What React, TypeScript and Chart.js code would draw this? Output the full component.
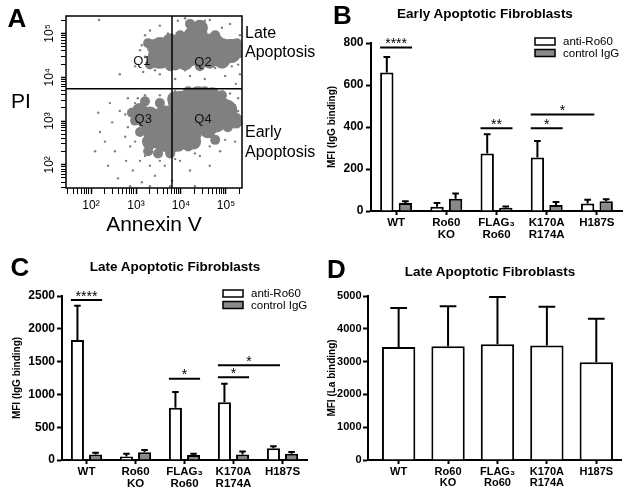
import React, { useEffect, useRef } from 'react';
import { Chart, registerables } from 'chart.js';

Chart.register(...registerables);

const FONT = '"Liberation Sans", Arial, Helvetica, sans-serif';
Chart.defaults.font.family = FONT;
Chart.defaults.color = '#000';

// ---------------- Panel A: flow cytometry (values in log10 units) ----------------
const annexinRange = [1.444, 5.356];
const piRange = [1.47, 5.4];
const annexinGate = 3.8;
const piGate = 3.74;
const quadrantNames = ['Q1', 'Q2', 'Q3', 'Q4'];
const quadrantLabelAnnexin = [3.13, 4.49, 3.16, 4.49];
const quadrantLabelPI = [4.36, 4.34, 3.04, 3.04];
const decadeLabels = ['10²', '10³', '10⁴', '10⁵'];

// event density groups, [log10 Annexin V, log10 PI]
const eventsDensest = [[4.2, 4.62], [4.6, 4.62], [4.09, 3.15], [4.53, 3.23]];
const eventsDense = [
  [3.64, 4.56], [3.87, 4.65], [4.91, 4.62], [4.31, 4.91], [3.53, 4.47], [4.09, 4.51], [4.71, 4.74],
  [5.09, 4.6],
  [3.64, 3.08], [3.76, 2.79], [4.76, 3.01], [4.38, 3.52], [3.42, 2.79], [4.2, 2.75], [3.98, 3.41],
  [4.42, 2.97], [3.53, 2.64], [4.98, 3.23],
];
const eventsMedium = [
  [3.42, 4.69], [3.42, 4.4], [5.13, 4.69], [5.13, 4.51], [4.42, 5.13], [4.09, 4.34], [4.64, 4.38],
  [3.76, 4.82], [4.42, 4.96], [3.53, 4.74], [3.87, 4.34], [4.91, 4.38], [5.28, 4.62],
  [3.2, 3.01], [3.31, 2.53], [3.58, 2.48], [3.93, 2.48], [4.87, 3.41], [5.04, 3.15], [4.6, 2.79],
  [3.87, 3.5], [3.09, 3.23], [3.31, 3.15], [3.76, 2.42], [4.09, 3.52], [4.69, 3.59], [4.27, 2.53],
  [5.2, 3.01],
];
const eventsLight = [
  [3.27, 4.78], [3.31, 4.29], [5.24, 4.78], [5.24, 4.56], [4.76, 4.96], [3.98, 4.96], [3.76, 4.25],
  [4.42, 4.25], [5.0, 4.4], [4.2, 5.22],
  [2.98, 3.01], [2.91, 3.19], [3.09, 2.75], [3.27, 2.31], [3.49, 2.26], [3.76, 2.26], [4.16, 2.42],
  [4.76, 2.57], [5.04, 2.86], [5.13, 3.3], [4.91, 3.59], [4.53, 3.68], [4.16, 3.68], [3.53, 3.41],
  [3.2, 3.45],
];
const eventsSparse = [
  [2.18, 5.31], [2.64, 4.07], [2.98, 4.25], [3.09, 4.62], [3.16, 4.12], [3.53, 4.07], [3.87, 3.96],
  [4.2, 4.03], [4.53, 3.96], [4.98, 4.03], [5.27, 4.29], [3.93, 5.29], [4.64, 5.31], [5.09, 5.22],
  [3.2, 4.96], [3.31, 5.07], [3.53, 5.18], [3.71, 5.0], [4.09, 5.35], [4.53, 5.29], [4.91, 5.13],
  [5.31, 4.96], [3.2, 4.47], [3.13, 4.73], [3.42, 4.16], [4.09, 4.16], [4.76, 4.21], [5.13, 4.25],
  [5.31, 4.07],
  [2.09, 2.31], [2.2, 2.75], [2.31, 2.53], [2.38, 1.98], [2.47, 2.97], [2.53, 2.31], [2.6, 1.69],
  [2.64, 3.23], [2.76, 2.64], [2.78, 2.09], [2.87, 2.42], [2.93, 1.87], [3.04, 3.52], [3.09, 2.09],
  [3.13, 1.6], [3.31, 1.98], [3.42, 1.75], [3.64, 1.98], [3.8, 1.64], [3.98, 2.09], [4.2, 1.87],
  [4.42, 2.2], [4.64, 1.98], [4.87, 2.31], [5.2, 2.53], [5.27, 3.52], [2.82, 3.52], [2.42, 3.41],
  [2.16, 3.19], [5.22, 3.85], [2.87, 1.51], [3.31, 1.51], [3.76, 1.51], [4.31, 1.51],
  [2.76, 3.15], [2.82, 2.86], [2.98, 2.53], [3.2, 2.2], [3.53, 2.09], [3.87, 2.13], [4.31, 2.26],
  [4.64, 2.42], [4.98, 2.57], [5.27, 2.86], [5.27, 3.23], [5.09, 3.63], [4.76, 3.72], [4.31, 3.72],
  [3.87, 3.68], [3.53, 3.59], [3.2, 3.59], [2.98, 3.41],
];

// ---------------- Panels B–D: bar charts ----------------
const categories: (string | string[])[] = ['WT', ['Ro60', 'KO'], ['FLAG₃', 'Ro60'], ['K170A', 'R174A'], 'H187S'];
const seriesNames = ['anti-Ro60', 'control IgG'];

const earlyAntiRo60 = [660, 20, 274, 255, 36];
const earlyAntiRo60Sem = [73, 18, 92, 78, 18];
const earlyControlIgG = [38, 58, 16, 29, 46];
const earlyControlIgGSem = [8, 25, 6, 14, 10];

const lateAntiRo60 = [1829, 55, 798, 879, 178];
const lateAntiRo60Sem = [524, 40, 239, 285, 32];
const lateControlIgG = [85, 117, 75, 85, 95];
const lateControlIgGSem = [25, 35, 22, 45, 28];

const laBinding = [3448, 3469, 3529, 3489, 2982];
const laBindingSem = [1187, 1217, 1441, 1186, 1328];

// significance brackets: from anti-Ro60 bar of sigFromCat to bar [sigToCat, sigToSeries]
const sigFromCat = [0, 2, 3, 3];
const sigToCat = [0, 2, 3, 4];
const sigToSeries = [1, 1, 1, 0];
const earlySigLevel = [779, 394, 394, 460];
const earlySigStars = ['****', '**', '*', '*'];
const lateSigLevel = [2439, 1240, 1260, 1443];
const lateSigStars = ['****', '*', '*', '*'];

const WHITE = '#ffffff';
const GRAY = '#898989';

function logTicks(min: number, max: number) {
  const t: any[] = [];
  for (let d = 1; d <= 5; d++) {
    for (let k = 1; k <= 9; k++) {
      const v = d + Math.log10(k);
      if (v >= min - 1e-9 && v <= max + 1e-9) t.push({ value: v, major: k === 1 });
    }
  }
  return t;
}
function decadeLabel(v: number) {
  const r = Math.round(v);
  if (Math.abs(v - r) > 1e-6) return '';
  return decadeLabels[r - 2] ?? '';
}

function flowConfig(): any {
  const pts = (arr: number[][]) => arr.map(([x, y]) => ({ x, y }));
  const groups: [number[][], number][] = [
    [eventsSparse, 1.2],
    [eventsLight, 5],
    [eventsMedium, 8],
    [eventsDense, 12],
    [eventsDensest, 16],
  ];
  const framePlugin = {
    id: 'flowFrame',
    afterDatasetsDraw(chart: any) {
      const { ctx, chartArea: a, scales } = chart;
      const gx = scales.x.getPixelForValue(annexinGate);
      const gy = scales.y.getPixelForValue(piGate);
      ctx.save();
      ctx.strokeStyle = '#000';
      ctx.lineWidth = 1.5;
      ctx.strokeRect(a.left, a.top, a.right - a.left, a.bottom - a.top);
      ctx.beginPath();
      ctx.moveTo(gx, a.top);
      ctx.lineTo(gx, a.bottom);
      ctx.moveTo(a.left, gy);
      ctx.lineTo(a.right, gy);
      ctx.stroke();
      ctx.fillStyle = '#111';
      ctx.font = `13px ${FONT}`;
      ctx.textAlign = 'center';
      ctx.textBaseline = 'middle';
      quadrantNames.forEach((q, i) => {
        ctx.fillText(q, scales.x.getPixelForValue(quadrantLabelAnnexin[i]), scales.y.getPixelForValue(quadrantLabelPI[i]));
      });
      ctx.restore();
    },
  };
  return {
    type: 'scatter',
    data: {
      datasets: groups.map(([g, r]) => ({
        data: pts(g),
        pointRadius: r,
        pointHoverRadius: r,
        backgroundColor: '#808080',
        borderWidth: 0,
      })),
    },
    options: {
      responsive: false,
      animation: false,
      devicePixelRatio: 1,
      events: [],
      layout: { padding: { top: 10, right: 58, left: 0, bottom: 0 } },
      plugins: { legend: { display: false }, tooltip: { enabled: false } },
      scales: {
        x: {
          type: 'linear',
          min: annexinRange[0],
          max: annexinRange[1],
          afterBuildTicks: (s: any) => { s.ticks = logTicks(annexinRange[0], annexinRange[1]); },
          ticks: { autoSkip: false, maxRotation: 0, minRotation: 0, padding: 4, font: { size: 12 }, callback: (v: any) => decadeLabel(Number(v)) },
          grid: { drawOnChartArea: false, tickLength: 6, tickColor: '#000', tickWidth: (c: any) => (c.tick && c.tick.major ? 1.5 : 1) },
          border: { display: false },
          title: { display: true, text: 'Annexin V', font: { size: 21 }, padding: { top: 0, bottom: 2 } },
          afterFit: (s: any) => { s.height = 52; },
        },
        y: {
          type: 'linear',
          min: piRange[0],
          max: piRange[1],
          afterBuildTicks: (s: any) => { s.ticks = logTicks(piRange[0], piRange[1]); },
          ticks: { autoSkip: false, minRotation: 90, maxRotation: 90, crossAlign: 'center', padding: 2, font: { size: 12 }, callback: (v: any) => decadeLabel(Number(v)) },
          grid: { drawOnChartArea: false, tickLength: 5, tickColor: '#000', tickWidth: (c: any) => (c.tick && c.tick.major ? 1.5 : 1) },
          border: { display: false },
          afterFit: (s: any) => { s.width = 66; },
        },
      },
    },
    plugins: [framePlugin],
  };
}

interface BarSpec {
  series: number[][];
  errors: number[][];
  fills: string[];
  names: string[];
  yMax: number;
  step: number;
  yTitle: string;
  yTitlePad: number;
  yWidth: number;
  xHeight: number;
  padTop: number;
  padRight: number;
  catPct: number;
  barPct: number;
  tickFont: number;
  tickPad: number;
  xFont: number;
  xMin?: number;
  sigLevel?: number[];
  sigStars?: string[];
  legendAt?: number[];
}

function barConfig(p: BarSpec): any {
  const linearX = p.xMin !== undefined;
  const errorPlugin = {
    id: 'errorBars',
    afterDatasetsDraw(chart: any) {
      const { ctx } = chart;
      const y = chart.scales.y;
      ctx.save();
      ctx.strokeStyle = '#000';
      ctx.lineWidth = 2;
      p.series.forEach((vals, i) => {
        const meta = chart.getDatasetMeta(i);
        meta.data.forEach((el: any, j: number) => {
          const yTop = y.getPixelForValue(vals[j] + p.errors[i][j]);
          const hw = el.width * 0.25;
          ctx.beginPath();
          ctx.moveTo(el.x, el.y);
          ctx.lineTo(el.x, yTop);
          ctx.moveTo(el.x - hw, yTop);
          ctx.lineTo(el.x + hw, yTop);
          ctx.stroke();
        });
      });
      ctx.restore();
    },
  };
  const sigPlugin = {
    id: 'sigBrackets',
    afterDatasetsDraw(chart: any) {
      if (!p.sigLevel || !p.sigStars) return;
      const { ctx } = chart;
      const y = chart.scales.y;
      ctx.save();
      ctx.strokeStyle = '#000';
      ctx.fillStyle = '#000';
      ctx.lineWidth = 2;
      ctx.font = `14px ${FONT}`;
      ctx.textAlign = 'center';
      ctx.textBaseline = 'alphabetic';
      p.sigLevel.forEach((lvl, k) => {
        const a: any = chart.getDatasetMeta(0).data[sigFromCat[k]];
        const b: any = chart.getDatasetMeta(sigToSeries[k]).data[sigToCat[k]];
        const x1 = a.x - a.width / 2;
        const x2 = b.x + b.width / 2;
        const yy = y.getPixelForValue(lvl);
        ctx.beginPath();
        ctx.moveTo(x1, yy);
        ctx.lineTo(x2, yy);
        ctx.stroke();
        ctx.fillText(p.sigStars![k], (x1 + x2) / 2, yy + 0.5);
      });
      ctx.restore();
    },
  };
  const legendPlugin = {
    id: 'boxLegend',
    afterDraw(chart: any) {
      if (!p.legendAt) return;
      const { ctx } = chart;
      ctx.save();
      p.names.forEach((n, i) => {
        const bx = p.legendAt![0];
        const by = p.legendAt![1] + i * 11.5;
        ctx.fillStyle = p.fills[i];
        ctx.fillRect(bx, by, 20, 7);
        ctx.strokeStyle = '#000';
        ctx.lineWidth = 1.5;
        ctx.strokeRect(bx, by, 20, 7);
        ctx.fillStyle = '#000';
        ctx.font = `11.5px ${FONT}`;
        ctx.textAlign = 'left';
        ctx.textBaseline = 'middle';
        ctx.fillText(n, bx + 28, by + 4);
      });
      ctx.restore();
    },
  };
  const xScale: any = {
    grid: { offset: false, drawOnChartArea: false, tickLength: 4, tickColor: '#000', tickWidth: 2 },
    border: { color: '#000', width: 2 },
    ticks: { font: { size: p.xFont, weight: 'bold', lineHeight: 1 }, padding: 2.25, maxRotation: 0, minRotation: 0, autoSkip: false },
    afterFit: (s: any) => { s.height = p.xHeight; },
  };
  if (linearX) {
    xScale.type = 'linear';
    xScale.offset = false;
    xScale.min = p.xMin;
    xScale.max = categories.length - 0.5;
    xScale.afterBuildTicks = (s: any) => { s.ticks = categories.map((_, i) => ({ value: i })); };
    xScale.ticks.callback = (v: any) => categories[Math.round(Number(v))];
  }
  return {
    type: 'bar',
    data: {
      labels: categories,
      datasets: p.series.map((vals, i) => ({
        label: p.names[i],
        data: linearX ? vals.map((v, j) => ({ x: j, y: v })) : vals,
        backgroundColor: p.fills[i],
        borderColor: '#000',
        borderWidth: 2,
        borderSkipped: 'start',
        categoryPercentage: p.catPct,
        barPercentage: p.barPct,
      })),
    },
    options: {
      responsive: false,
      animation: false,
      devicePixelRatio: 1,
      events: [],
      layout: { padding: { top: p.padTop, right: p.padRight, left: 0, bottom: 0 } },
      plugins: { legend: { display: false }, tooltip: { enabled: false }, title: { display: false } },
      scales: {
        x: xScale,
        y: {
          min: 0,
          max: p.yMax,
          ticks: { stepSize: p.step, font: { size: p.tickFont, weight: 'bold' }, padding: p.tickPad, callback: (v: any) => String(v) },
          grid: { drawOnChartArea: false, tickLength: 5, tickColor: '#000', tickWidth: 2 },
          border: { color: '#000', width: 2 },
          title: { display: true, text: p.yTitle, font: { size: 10, weight: 'bold', lineHeight: 1.2 }, padding: { top: p.yTitlePad, bottom: 0 } },
          afterFit: (s: any) => { s.width = p.yWidth; },
        },
      },
    },
    plugins: [errorPlugin, sigPlugin, legendPlugin],
  };
}

function ChartCanvas({ left, top, width, height, build }: { left: number; top: number; width: number; height: number; build: () => any }) {
  const ref = useRef<HTMLCanvasElement>(null);
  useEffect(() => {
    const chart = new Chart(ref.current as HTMLCanvasElement, build());
    return () => chart.destroy();
  }, []);
  return (
    <canvas
      ref={ref}
      width={width}
      height={height}
      style={{ position: 'absolute', left, top, width, height }}
    />
  );
}

function Txt({ x, y, size, bold, align = 'center', children }: { x: number; y: number; size: number; bold?: boolean; align?: 'center' | 'left'; children: React.ReactNode }) {
  return (
    <div
      style={{
        position: 'absolute',
        left: x,
        top: y,
        transform: align === 'center' ? 'translate(-50%, -50%)' : 'translate(0, -50%)',
        font: `${bold ? 'bold ' : ''}${size}px ${FONT}`,
        lineHeight: 1,
        whiteSpace: 'nowrap',
        color: '#000',
      }}
    >
      {children}
    </div>
  );
}

export default function App() {
  return (
    <div style={{ position: 'absolute', left: 0, top: 0, width: 629, height: 495, background: '#fff', overflow: 'hidden' }}>
      <ChartCanvas left={0} top={0} width={300} height={240} build={flowConfig} />
      <ChartCanvas
        left={300}
        top={0}
        width={329}
        height={240}
        build={() =>
          barConfig({
            series: [earlyAntiRo60, earlyControlIgG],
            errors: [earlyAntiRo60Sem, earlyControlIgGSem],
            fills: [WHITE, GRAY],
            names: seriesNames,
            yMax: 800,
            step: 200,
            yTitle: 'MFI (IgG binding)',
            yTitlePad: 26,
            yWidth: 71,
            xHeight: 29,
            padTop: 43,
            padRight: 7,
            catPct: 0.74,
            barPct: 0.72,
            tickFont: 12,
            tickPad: 2.5,
            xFont: 11.5,
            sigLevel: earlySigLevel,
            sigStars: earlySigStars,
            legendAt: [235, 38],
          })
        }
      />
      <ChartCanvas
        left={0}
        top={240}
        width={320}
        height={255}
        build={() =>
          barConfig({
            series: [lateAntiRo60, lateControlIgG],
            errors: [lateAntiRo60Sem, lateControlIgGSem],
            fills: [WHITE, GRAY],
            names: seriesNames,
            yMax: 2500,
            step: 500,
            yTitle: 'MFI (IgG binding)',
            yTitlePad: 11,
            yWidth: 62,
            xHeight: 35,
            padTop: 56,
            padRight: 13,
            catPct: 0.74,
            barPct: 0.72,
            tickFont: 12,
            tickPad: 2,
            xFont: 11.5,
            sigLevel: lateSigLevel,
            sigStars: lateSigStars,
            legendAt: [223, 50],
          })
        }
      />
      <ChartCanvas
        left={310}
        top={240}
        width={319}
        height={255}
        build={() =>
          barConfig({
            series: [laBinding],
            errors: [laBindingSem],
            fills: [WHITE],
            names: ['La binding'],
            yMax: 5000,
            step: 1000,
            yTitle: 'MFI (La binding)',
            yTitlePad: 16,
            yWidth: 58,
            xHeight: 35,
            padTop: 56,
            padRight: 8,
            catPct: 0.75,
            barPct: 0.9,
            tickFont: 11,
            tickPad: 1.5,
            xFont: 11,
            xMin: -0.62,
          })
        }
      />
      <Txt x={17} y={17.5} size={26} bold>A</Txt>
      <Txt x={342.5} y={15} size={26} bold>B</Txt>
      <Txt x={20} y={266.5} size={26} bold>C</Txt>
      <Txt x={336.5} y={268.5} size={26} bold>D</Txt>
      <Txt x={21} y={100} size={21}>PI</Txt>
      <Txt x={245} y={33} size={16} align="left">Late</Txt>
      <Txt x={245} y={52} size={16} align="left">Apoptosis</Txt>
      <Txt x={245} y={132} size={16} align="left">Early</Txt>
      <Txt x={245} y={152} size={16} align="left">Apoptosis</Txt>
      <Txt x={485} y={14} size={13.5} bold>Early Apoptotic Fibroblasts</Txt>
      <Txt x={175} y={267} size={13.5} bold>Late Apoptotic Fibroblasts</Txt>
      <Txt x={490} y={272} size={13.5} bold>Late Apoptotic Fibroblasts</Txt>
    </div>
  );
}
